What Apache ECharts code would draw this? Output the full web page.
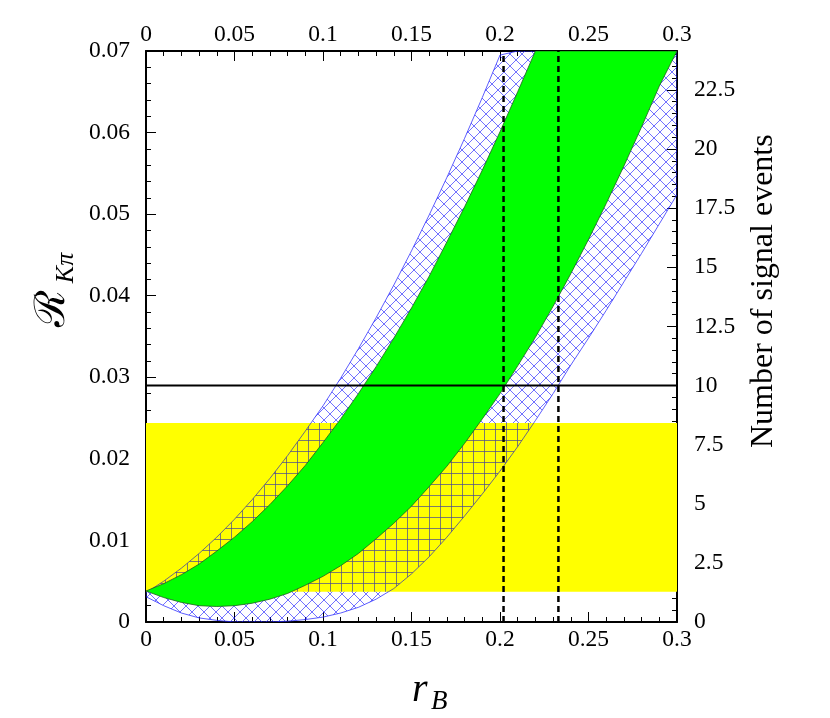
<!DOCTYPE html>
<html><head><meta charset="utf-8">
<script src="https://cdn.jsdelivr.net/npm/echarts@6/dist/echarts.min.js"></script>
<style>html,body{margin:0;padding:0;background:#fff}#c{width:830px;height:718px}</style>
</head><body><div id="c"></div>
<script>
// r_B sample points
const rGrid = [0,0.01,0.02,0.03,0.04,0.05,0.06,0.07,0.08,0.09,0.10,0.11,0.12,0.13,0.14,0.15,0.16,0.17,0.18,0.19,0.20,0.21,0.22,0.23,0.24,0.25,0.26,0.27,0.28,0.29,0.30];
// hatched band (outer) boundaries, R_Kpi (0.07 = frame top)
const hatchUpper = [0.0036,0.0050,0.0066,0.0084,0.0104,0.0126,0.0150,0.0176,0.0204,0.0234,0.0265,0.0299,0.0335,0.0373,0.0413,0.0455,0.0499,0.0545,0.0593,0.0643,0.0695,0.07,0.07,0.07,0.07,0.07,0.07,0.07,0.07,0.07,0.07];
const hatchLower = [0.0031,0.0020,0.0011,0.0005,0.0002,0.0,0.0,0.0,0.0001,0.0003,0.0006,0.0011,0.0018,0.0028,0.0041,0.0059,0.0080,0.0104,0.0130,0.0157,0.0185,0.0215,0.0247,0.0280,0.0315,0.0348,0.0382,0.0417,0.0452,0.0488,0.0524];
// green band boundaries
const greenUpper = [0.0038,0.0047,0.0058,0.0071,0.0087,0.0104,0.0123,0.0144,0.0167,0.0192,0.0220,0.0249,0.0280,0.0313,0.0348,0.0385,0.0424,0.0466,0.0509,0.0554,0.0601,0.0650,0.07,0.07,0.07,0.07,0.07,0.07,0.07,0.07,0.07];
const greenLower = [0.0038,0.0030,0.0024,0.0020,0.0019,0.0020,0.0023,0.0028,0.0035,0.0045,0.0056,0.0069,0.0084,0.0102,0.0121,0.0142,0.0166,0.0191,0.0219,0.0249,0.0280,0.0314,0.0349,0.0387,0.0427,0.0469,0.0513,0.0559,0.0607,0.0657,0.07];
// yellow band limits
const yellowBand = [0.0037, 0.0244];
// horizontal reference level (10 signal events)
const refLevel = 0.029;
// vertical dashed lines
const dashedR = [0.202, 0.233];
// right axis: number of signal events
const eventsMax = 24.14;

function makeDiag(n){
  const c = document.createElement('canvas'); c.width = n; c.height = n;
  const g = c.getContext('2d');
  g.strokeStyle = 'rgba(20,20,255,0.6)'; g.lineWidth = 1;
  g.beginPath();
  g.moveTo(-1,-1); g.lineTo(n+1,n+1);
  g.moveTo(n+1,-1); g.lineTo(-1,n+1);
  g.stroke();
  return c;
}
function makeGrid(n){
  const c = document.createElement('canvas'); c.width = n; c.height = n;
  const g = c.getContext('2d');
  g.strokeStyle = 'rgba(70,70,150,0.7)'; g.lineWidth = 1;
  g.beginPath();
  g.moveTo(0.5,0); g.lineTo(0.5,n);
  g.moveTo(0,0.5); g.lineTo(n,0.5);
  g.stroke();
  return c;
}
const diagImg = makeDiag(12);
const gridImg = makeGrid(11);

function bandPoints(api, upper, lower){
  const pts = [];
  for (let i=0;i<rGrid.length;i++) pts.push(api.coord([rGrid[i], upper[i]]));
  for (let i=rGrid.length-1;i>=0;i--) pts.push(api.coord([rGrid[i], lower[i]]));
  return pts;
}
function yellowRect(api){
  const a = api.coord([rGrid[0], yellowBand[1]]);
  const b = api.coord([rGrid[rGrid.length-1], yellowBand[0]]);
  return {x:a[0], y:a[1], width:b[0]-a[0], height:b[1]-a[1]};
}

const font = 'Liberation Serif';
const lab = {fontFamily:font, fontSize:23.5, color:'#000'};
function xAx(pos, margin){
  return {type:'value', position:pos, min:0, max:0.3, interval:0.05,
    axisLine:{show:true, onZero:false, lineStyle:{color:'#000', width:2}},
    axisTick:{show:true, inside:true, length:10, lineStyle:{color:'#000', width:1}},
    minorTick:{show:true, splitNumber:5, length:5, lineStyle:{color:'#000', width:1}},
    splitLine:{show:false}, minorSplitLine:{show:false},
    axisLabel:Object.assign({margin:margin}, lab)};
}
function yAx(pos, max, interval, extra){
  return Object.assign({type:'value', position:pos, min:0, max:max, interval:interval,
     axisLine:{show:true, onZero:false, lineStyle:{color:'#000', width:2}},
     axisTick:{show:true, inside:true, length:10, lineStyle:{color:'#000'}},
     minorTick:{show:true, splitNumber:5, length:5, lineStyle:{color:'#000'}},
     splitLine:{show:false}}, extra);
}
const chart = echarts.init(document.getElementById('c'));
chart.setOption({
  backgroundColor:'#fff',
  animation:false,
  grid:{left:146, top:51, width:531, height:571, containLabel:false},
  xAxis:[xAx('bottom',6), xAx('top',4)],
  yAxis:[
    yAx('left', 0.07, 0.01, {axisLabel:Object.assign({margin:16}, lab)}),
    yAx('right', eventsMax, 2.5, {axisLabel:Object.assign({margin:17, showMaxLabel:false}, lab)})
  ],
  series:[
    // hatched band over white (diagonal hatch)
    {type:'custom', xAxisIndex:0, yAxisIndex:0, z:1, silent:true, clip:true, data:[[0,0]],
     renderItem:function(p, api){
       return {type:'polygon', shape:{points:bandPoints(api, hatchUpper, hatchLower)},
               style:{fill:{image:diagImg, repeat:'repeat'}, stroke:'rgba(40,40,255,0.75)', lineWidth:1}};
     }},
    // yellow band
    {type:'custom', xAxisIndex:0, yAxisIndex:0, z:2, silent:true, clip:true, data:[[0,0]],
     renderItem:function(p, api){
       return {type:'rect', shape:yellowRect(api), style:{fill:'#ffff00'}};
     }},
    // hatched band seen through the yellow band
    {type:'custom', xAxisIndex:0, yAxisIndex:0, z:3, silent:true, clip:true, data:[[0,0]],
     renderItem:function(p, api){
       return {type:'polygon', shape:{points:bandPoints(api, hatchUpper, hatchLower)},
               clipPath:{type:'rect', shape:yellowRect(api)},
               style:{fill:{image:gridImg, repeat:'repeat'}, stroke:'rgba(70,70,160,0.8)', lineWidth:1}};
     }},
    // green band
    {type:'custom', xAxisIndex:0, yAxisIndex:0, z:4, silent:true, clip:true, data:[[0,0]],
     renderItem:function(p, api){
       return {type:'polygon', shape:{points:bandPoints(api, greenUpper, greenLower)},
               style:{fill:'#00ff00', stroke:'#1f5f1f', lineWidth:0.8}};
     }},
    {type:'line', xAxisIndex:0, yAxisIndex:0, z:5, symbol:'none', silent:true,
     data:[[rGrid[0], refLevel],[rGrid[rGrid.length-1], refLevel]],
     lineStyle:{color:'#000', width:2}},
    {type:'line', xAxisIndex:0, yAxisIndex:0, z:5, symbol:'none', silent:true,
     data:[[dashedR[0],0],[dashedR[0],0.07]],
     lineStyle:{color:'#000', width:2.5, type:[6,4]}},
    {type:'line', xAxisIndex:0, yAxisIndex:0, z:5, symbol:'none', silent:true,
     data:[[dashedR[1],0],[dashedR[1],0.07]],
     lineStyle:{color:'#000', width:2.5, type:[6,4]}}
  ],
  graphic:[
    {type:'text', x:764, y:448, rotation:Math.PI/2, z:10,
     style:{text:'Number of signal events', fontFamily:font, fontSize:32, fill:'#000', align:'left', verticalAlign:'middle'}},
    {type:'text', x:53, y:308, rotation:Math.PI/2, z:10,
     style:{text:'ℛ', fontFamily:'DejaVu Serif', fontSize:42, fill:'#000', align:'center', verticalAlign:'middle'}},
    {type:'text', x:66, y:268, rotation:Math.PI/2, z:10,
     style:{text:'Kπ', fontFamily:font, fontStyle:'italic', fontSize:26, fill:'#000', align:'center', verticalAlign:'middle'}},
    {type:'text', x:412, y:690, z:10,
     style:{text:'r', fontFamily:font, fontStyle:'italic', fontSize:40, fill:'#000', align:'left', verticalAlign:'middle'}},
    {type:'text', x:431, y:702, z:10,
     style:{text:'B', fontFamily:font, fontStyle:'italic', fontSize:27, fill:'#000', align:'left', verticalAlign:'middle'}}
  ]
});
</script></body></html>
